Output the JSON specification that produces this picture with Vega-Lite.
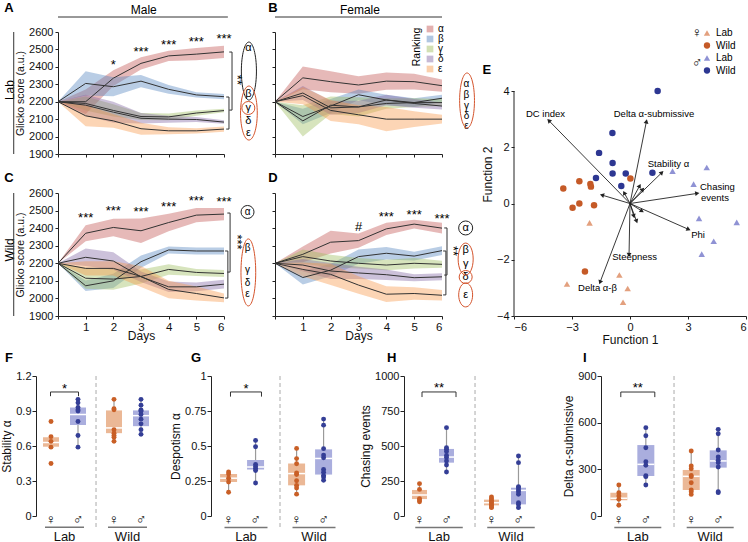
{
"$schema":"https://vega.github.io/schema/vega-lite/v6.json",
"padding":{"left":0,"top":1,"right":0,"bottom":0},
"config":{"font":"Liberation Sans","view":{"stroke":null},
"axis":{"grid":false,"labelColor":"#111","titleColor":"#111","domainColor":"#222","tickColor":"#222","labelFontSize":11,"titleFontSize":12,"titleFontWeight":"normal","tickSize":3,"labelFont":"Liberation Sans","titleFont":"Liberation Sans"},
"legend":{"labelFont":"Liberation Sans"},"title":{"font":"Liberation Sans"},"text":{"font":"Liberation Sans"}},
"datasets":{
"glicko":[
{"p":"A","r":"α","d":0,"s":2200,"lo":2200,"hi":2200},{"p":"A","r":"α","d":1,"s":2200,"lo":2130,"hi":2270},{"p":"A","r":"α","d":2,"s":2335,"lo":2290,"hi":2380},{"p":"A","r":"α","d":3,"s":2420,"lo":2385,"hi":2455},{"p":"A","r":"α","d":4,"s":2463,"lo":2433,"hi":2493},{"p":"A","r":"α","d":5,"s":2473,"lo":2438,"hi":2508},{"p":"A","r":"α","d":6,"s":2486,"lo":2451,"hi":2521},
{"p":"A","r":"β","d":0,"s":2200,"lo":2200,"hi":2200},{"p":"A","r":"β","d":1,"s":2305,"lo":2235,"hi":2375},{"p":"A","r":"β","d":2,"s":2286,"lo":2231,"hi":2341},{"p":"A","r":"β","d":3,"s":2318,"lo":2283,"hi":2353},{"p":"A","r":"β","d":4,"s":2271,"lo":2246,"hi":2296},{"p":"A","r":"β","d":5,"s":2239,"lo":2224,"hi":2254},{"p":"A","r":"β","d":6,"s":2229,"lo":2214,"hi":2244},
{"p":"A","r":"γ","d":0,"s":2200,"lo":2200,"hi":2200},{"p":"A","r":"γ","d":1,"s":2190,"lo":2150,"hi":2230},{"p":"A","r":"γ","d":2,"s":2150,"lo":2115,"hi":2185},{"p":"A","r":"γ","d":3,"s":2115,"lo":2095,"hi":2135},{"p":"A","r":"γ","d":4,"s":2113,"lo":2093,"hi":2133},{"p":"A","r":"γ","d":5,"s":2135,"lo":2120,"hi":2150},{"p":"A","r":"γ","d":6,"s":2149,"lo":2139,"hi":2159},
{"p":"A","r":"δ","d":0,"s":2200,"lo":2200,"hi":2200},{"p":"A","r":"δ","d":1,"s":2180,"lo":2120,"hi":2240},{"p":"A","r":"δ","d":2,"s":2140,"lo":2080,"hi":2200},{"p":"A","r":"δ","d":3,"s":2105,"lo":2075,"hi":2135},{"p":"A","r":"δ","d":4,"s":2100,"lo":2080,"hi":2120},{"p":"A","r":"δ","d":5,"s":2098,"lo":2083,"hi":2113},{"p":"A","r":"δ","d":6,"s":2083,"lo":2073,"hi":2093},
{"p":"A","r":"ε","d":0,"s":2200,"lo":2200,"hi":2200},{"p":"A","r":"ε","d":1,"s":2119,"lo":2059,"hi":2179},{"p":"A","r":"ε","d":2,"s":2090,"lo":2050,"hi":2130},{"p":"A","r":"ε","d":3,"s":2045,"lo":2010,"hi":2080},{"p":"A","r":"ε","d":4,"s":2033,"lo":2013,"hi":2053},{"p":"A","r":"ε","d":5,"s":2033,"lo":2018,"hi":2048},{"p":"A","r":"ε","d":6,"s":2043,"lo":2028,"hi":2058},
{"p":"B","r":"α","d":0,"s":2200,"lo":2200,"hi":2200},{"p":"B","r":"α","d":1,"s":2337,"lo":2272,"hi":2402},{"p":"B","r":"α","d":2,"s":2315,"lo":2255,"hi":2375},{"p":"B","r":"α","d":3,"s":2296,"lo":2246,"hi":2346},{"p":"B","r":"α","d":4,"s":2318,"lo":2268,"hi":2368},{"p":"B","r":"α","d":5,"s":2315,"lo":2270,"hi":2360},{"p":"B","r":"α","d":6,"s":2292,"lo":2257,"hi":2327},
{"p":"B","r":"β","d":0,"s":2200,"lo":2200,"hi":2200},{"p":"B","r":"β","d":1,"s":2115,"lo":2070,"hi":2160},{"p":"B","r":"β","d":2,"s":2175,"lo":2135,"hi":2215},{"p":"B","r":"β","d":3,"s":2240,"lo":2210,"hi":2270},{"p":"B","r":"β","d":4,"s":2210,"lo":2180,"hi":2240},{"p":"B","r":"β","d":5,"s":2195,"lo":2170,"hi":2220},{"p":"B","r":"β","d":6,"s":2220,"lo":2200,"hi":2240},
{"p":"B","r":"γ","d":0,"s":2200,"lo":2200,"hi":2200},{"p":"B","r":"γ","d":1,"s":2090,"lo":2000,"hi":2180},{"p":"B","r":"γ","d":2,"s":2180,"lo":2130,"hi":2230},{"p":"B","r":"γ","d":3,"s":2170,"lo":2115,"hi":2225},{"p":"B","r":"γ","d":4,"s":2190,"lo":2160,"hi":2220},{"p":"B","r":"γ","d":5,"s":2195,"lo":2170,"hi":2220},{"p":"B","r":"γ","d":6,"s":2195,"lo":2175,"hi":2215},
{"p":"B","r":"δ","d":0,"s":2200,"lo":2200,"hi":2200},{"p":"B","r":"δ","d":1,"s":2250,"lo":2210,"hi":2290},{"p":"B","r":"δ","d":2,"s":2165,"lo":2125,"hi":2205},{"p":"B","r":"δ","d":3,"s":2170,"lo":2135,"hi":2205},{"p":"B","r":"δ","d":4,"s":2210,"lo":2180,"hi":2240},{"p":"B","r":"δ","d":5,"s":2190,"lo":2165,"hi":2215},{"p":"B","r":"δ","d":6,"s":2175,"lo":2155,"hi":2195},
{"p":"B","r":"ε","d":0,"s":2200,"lo":2200,"hi":2200},{"p":"B","r":"ε","d":1,"s":2235,"lo":2185,"hi":2285},{"p":"B","r":"ε","d":2,"s":2150,"lo":2090,"hi":2210},{"p":"B","r":"ε","d":3,"s":2125,"lo":2070,"hi":2180},{"p":"B","r":"ε","d":4,"s":2100,"lo":2030,"hi":2170},{"p":"B","r":"ε","d":5,"s":2100,"lo":2055,"hi":2145},{"p":"B","r":"ε","d":6,"s":2100,"lo":2075,"hi":2125},
{"p":"C","r":"α","d":0,"s":2200,"lo":2200,"hi":2200},{"p":"C","r":"α","d":1,"s":2371,"lo":2326,"hi":2416},{"p":"C","r":"α","d":2,"s":2404,"lo":2354,"hi":2454},{"p":"C","r":"α","d":3,"s":2385,"lo":2315,"hi":2455},{"p":"C","r":"α","d":4,"s":2432,"lo":2382,"hi":2482},{"p":"C","r":"α","d":5,"s":2474,"lo":2434,"hi":2514},{"p":"C","r":"α","d":6,"s":2480,"lo":2445,"hi":2515},
{"p":"C","r":"β","d":0,"s":2200,"lo":2200,"hi":2200},{"p":"C","r":"β","d":1,"s":2072,"lo":2042,"hi":2102},{"p":"C","r":"β","d":2,"s":2100,"lo":2060,"hi":2140},{"p":"C","r":"β","d":3,"s":2209,"lo":2174,"hi":2244},{"p":"C","r":"β","d":4,"s":2276,"lo":2256,"hi":2296},{"p":"C","r":"β","d":5,"s":2270,"lo":2250,"hi":2290},{"p":"C","r":"β","d":6,"s":2270,"lo":2250,"hi":2290},
{"p":"C","r":"γ","d":0,"s":2200,"lo":2200,"hi":2200},{"p":"C","r":"γ","d":1,"s":2115,"lo":2055,"hi":2175},{"p":"C","r":"γ","d":2,"s":2110,"lo":2050,"hi":2170},{"p":"C","r":"γ","d":3,"s":2125,"lo":2085,"hi":2165},{"p":"C","r":"γ","d":4,"s":2165,"lo":2135,"hi":2195},{"p":"C","r":"γ","d":5,"s":2148,"lo":2128,"hi":2168},{"p":"C","r":"γ","d":6,"s":2142,"lo":2122,"hi":2162},
{"p":"C","r":"δ","d":0,"s":2200,"lo":2200,"hi":2200},{"p":"C","r":"δ","d":1,"s":2234,"lo":2184,"hi":2284},{"p":"C","r":"δ","d":2,"s":2213,"lo":2163,"hi":2263},{"p":"C","r":"δ","d":3,"s":2123,"lo":2093,"hi":2153},{"p":"C","r":"δ","d":4,"s":2066,"lo":2036,"hi":2096},{"p":"C","r":"δ","d":5,"s":2066,"lo":2041,"hi":2091},{"p":"C","r":"δ","d":6,"s":2081,"lo":2056,"hi":2106},
{"p":"C","r":"ε","d":0,"s":2200,"lo":2200,"hi":2200},{"p":"C","r":"ε","d":1,"s":2171,"lo":2131,"hi":2211},{"p":"C","r":"ε","d":2,"s":2171,"lo":2131,"hi":2211},{"p":"C","r":"ε","d":3,"s":2125,"lo":2065,"hi":2185},{"p":"C","r":"ε","d":4,"s":2051,"lo":2001,"hi":2101},{"p":"C","r":"ε","d":5,"s":2028,"lo":1988,"hi":2068},{"p":"C","r":"ε","d":6,"s":2003,"lo":1978,"hi":2028},
{"p":"D","r":"α","d":0,"s":2200,"lo":2200,"hi":2200},{"p":"D","r":"α","d":1,"s":2251,"lo":2206,"hi":2296},{"p":"D","r":"α","d":2,"s":2320,"lo":2255,"hi":2385},{"p":"D","r":"α","d":3,"s":2329,"lo":2289,"hi":2369},{"p":"D","r":"α","d":4,"s":2396,"lo":2361,"hi":2431},{"p":"D","r":"α","d":5,"s":2423,"lo":2398,"hi":2448},{"p":"D","r":"α","d":6,"s":2400,"lo":2370,"hi":2430},
{"p":"D","r":"β","d":0,"s":2200,"lo":2200,"hi":2200},{"p":"D","r":"β","d":1,"s":2119,"lo":2079,"hi":2159},{"p":"D","r":"β","d":2,"s":2161,"lo":2126,"hi":2196},{"p":"D","r":"β","d":3,"s":2238,"lo":2198,"hi":2278},{"p":"D","r":"β","d":4,"s":2257,"lo":2222,"hi":2292},{"p":"D","r":"β","d":5,"s":2241,"lo":2216,"hi":2266},{"p":"D","r":"β","d":6,"s":2272,"lo":2247,"hi":2297},
{"p":"D","r":"γ","d":0,"s":2200,"lo":2200,"hi":2200},{"p":"D","r":"γ","d":1,"s":2238,"lo":2198,"hi":2278},{"p":"D","r":"γ","d":2,"s":2213,"lo":2178,"hi":2248},{"p":"D","r":"γ","d":3,"s":2200,"lo":2170,"hi":2230},{"p":"D","r":"γ","d":4,"s":2190,"lo":2160,"hi":2220},{"p":"D","r":"γ","d":5,"s":2200,"lo":2170,"hi":2230},{"p":"D","r":"γ","d":6,"s":2194,"lo":2174,"hi":2214},
{"p":"D","r":"δ","d":0,"s":2200,"lo":2200,"hi":2200},{"p":"D","r":"δ","d":1,"s":2190,"lo":2155,"hi":2225},{"p":"D","r":"δ","d":2,"s":2156,"lo":2111,"hi":2201},{"p":"D","r":"δ","d":3,"s":2145,"lo":2110,"hi":2180},{"p":"D","r":"δ","d":4,"s":2135,"lo":2105,"hi":2165},{"p":"D","r":"δ","d":5,"s":2118,"lo":2098,"hi":2138},{"p":"D","r":"δ","d":6,"s":2123,"lo":2103,"hi":2143},
{"p":"D","r":"ε","d":0,"s":2200,"lo":2200,"hi":2200},{"p":"D","r":"ε","d":1,"s":2165,"lo":2125,"hi":2205},{"p":"D","r":"ε","d":2,"s":2137,"lo":2077,"hi":2197},{"p":"D","r":"ε","d":3,"s":2076,"lo":2026,"hi":2126},{"p":"D","r":"ε","d":4,"s":2024,"lo":1979,"hi":2069},{"p":"D","r":"ε","d":5,"s":2028,"lo":1993,"hi":2063},{"p":"D","r":"ε","d":6,"s":2018,"lo":1988,"hi":2048}
],
"seg":[
{"p":"A","x":6.29,"y":2485,"x2":6.29,"y2":2152},{"p":"A","x":6.19,"y":2485,"x2":6.29,"y2":2485},{"p":"A","x":6.19,"y":2152,"x2":6.29,"y2":2152},
{"p":"A","x":6.18,"y":2227,"x2":6.18,"y2":2043},{"p":"A","x":6.08,"y":2227,"x2":6.18,"y2":2227},{"p":"A","x":6.08,"y":2043,"x2":6.18,"y2":2043},
{"p":"C","x":6.22,"y":2486,"x2":6.22,"y2":2150},{"p":"C","x":6.12,"y":2486,"x2":6.22,"y2":2486},{"p":"C","x":6.12,"y":2150,"x2":6.22,"y2":2150},
{"p":"C","x":6.14,"y":2270,"x2":6.14,"y2":2002},{"p":"C","x":6.04,"y":2270,"x2":6.14,"y2":2270},{"p":"C","x":6.04,"y":2002,"x2":6.14,"y2":2002},
{"p":"D","x":6.18,"y":2401,"x2":6.18,"y2":2133},{"p":"D","x":6.08,"y":2401,"x2":6.18,"y2":2401},{"p":"D","x":6.08,"y":2133,"x2":6.18,"y2":2133},
{"p":"D","x":6.14,"y":2270,"x2":6.14,"y2":2020},{"p":"D","x":6.04,"y":2270,"x2":6.14,"y2":2270},{"p":"D","x":6.04,"y":2020,"x2":6.14,"y2":2020}
],
"ann":[
{"p":"A","k":"star","x":2,"y":2411,"t":"*"},{"p":"A","k":"star","x":3,"y":2485,"t":"***"},{"p":"A","k":"star","x":4,"y":2525,"t":"***"},{"p":"A","k":"star","x":5,"y":2543,"t":"***"},{"p":"A","k":"star","x":6,"y":2560,"t":"***"},
{"p":"C","k":"star","x":1,"y":2458,"t":"***"},{"p":"C","k":"star","x":2,"y":2498,"t":"***"},{"p":"C","k":"star","x":3,"y":2492,"t":"***"},{"p":"C","k":"star","x":4,"y":2520,"t":"***"},{"p":"C","k":"star","x":5,"y":2554,"t":"***"},{"p":"C","k":"star","x":6,"y":2549,"t":"***"},
{"p":"D","k":"star","x":3,"y":2405,"t":"#"},{"p":"D","k":"star","x":4,"y":2463,"t":"***"},{"p":"D","k":"star","x":5,"y":2475,"t":"***"},{"p":"D","k":"star","x":6,"y":2452,"t":"***"},
{"p":"A","k":"rot","x":6.47,"y":2325,"t":"**"},{"p":"C","k":"rot","x":6.47,"y":2321,"t":"***"},{"p":"D","k":"rot","x":6.4,"y":2270,"t":"**"},
{"p":"A","k":"greek","x":6.88,"y":2508,"t":"α"},{"p":"A","k":"greek","x":6.88,"y":2244,"t":"β"},{"p":"A","k":"greek","x":6.88,"y":2164,"t":"γ"},{"p":"A","k":"greek","x":6.88,"y":2089,"t":"δ"},{"p":"A","k":"greek","x":6.88,"y":2020,"t":"ε"},
{"p":"B","k":"greek","x":6.88,"y":2302,"t":"α"},{"p":"B","k":"greek","x":6.88,"y":2239,"t":"β"},{"p":"B","k":"greek","x":6.88,"y":2175,"t":"γ"},{"p":"B","k":"greek","x":6.88,"y":2118,"t":"δ"},{"p":"B","k":"greek","x":6.88,"y":2061,"t":"ε"},
{"p":"C","k":"greek","x":6.85,"y":2492,"t":"α"},{"p":"C","k":"greek","x":6.85,"y":2287,"t":"β"},{"p":"C","k":"greek","x":6.85,"y":2162,"t":"γ"},{"p":"C","k":"greek","x":6.85,"y":2090,"t":"δ"},{"p":"C","k":"greek","x":6.85,"y":2028,"t":"ε"},
{"p":"D","k":"greek","x":6.85,"y":2401,"t":"α"},{"p":"D","k":"greek","x":6.85,"y":2276,"t":"β"},{"p":"D","k":"greek","x":6.85,"y":2196,"t":"γ"},{"p":"D","k":"greek","x":6.85,"y":2122,"t":"δ"},{"p":"D","k":"greek","x":6.85,"y":2020,"t":"ε"}
],
"arrows":[
{"x0":0,"y0":0,"x":-4.2,"y":2.95},{"x0":0,"y0":0,"x":0.85,"y":2.92},{"x0":0,"y0":0,"x":1.65,"y":1.1},{"x0":0,"y0":0,"x":3.48,"y":0.36},{"x0":0,"y0":0,"x":3.03,"y":-0.92},{"x0":0,"y0":0,"x":-0.05,"y":-1.83},{"x0":0,"y0":0,"x":-1.55,"y":-2.8},
{"x0":0,"y0":0,"x":-1.45,"y":0.3},{"x0":0,"y0":0,"x":-0.3,"y":0.38},{"x0":0,"y0":0,"x":0.5,"y":0.63},{"x0":0,"y0":0,"x":0.66,"y":0.5},{"x0":0,"y0":0,"x":0.2,"y":-0.45},{"x0":0,"y0":0,"x":0.34,"y":-0.63},{"x0":0,"y0":0,"x":0.62,"y":-0.27}
],
"pcalab":[
{"t":"DC index","x":-4.37,"y":3.18},{"t":"Delta α-submissive","x":1.24,"y":3.18},{"t":"Stability α","x":1.99,"y":1.4},{"t":"Phi","x":3.52,"y":-1.12},{"t":"Steepness","x":0.24,"y":-1.9},{"t":"Delta α-β","x":-1.68,"y":-3.0},{"t":"Chasing","x":3.62,"y":0.57},{"t":"events","x":3.67,"y":0.21}
],
"pca":[
{"g":"M Wild","f1":1.43,"f2":4.0},{"g":"M Wild","f1":-0.91,"f2":2.51},{"g":"M Wild","f1":-1.6,"f2":1.8},{"g":"M Wild","f1":-0.9,"f2":1.44},{"g":"M Wild","f1":-0.9,"f2":1.07},{"g":"M Wild","f1":-0.22,"f2":1.07},{"g":"M Wild","f1":1.16,"f2":1.09},{"g":"M Wild","f1":-1.76,"f2":0.91},{"g":"M Wild","f1":-0.45,"f2":0.62},
{"g":"F Wild","f1":0.02,"f2":0.89},{"g":"F Wild","f1":-3.45,"f2":0.53},{"g":"F Wild","f1":-2.62,"f2":0.79},{"g":"F Wild","f1":-2.05,"f2":0.69},{"g":"F Wild","f1":-2.02,"f2":0.6},{"g":"F Wild","f1":-2.62,"f2":0.0},{"g":"F Wild","f1":-2.97,"f2":-0.15},{"g":"F Wild","f1":-1.86,"f2":-0.06},{"g":"F Wild","f1":-2.33,"f2":-2.42},
{"g":"F Lab","f1":-2.09,"f2":-0.69},{"g":"F Lab","f1":-3.26,"f2":-2.86},{"g":"F Lab","f1":-0.55,"f2":-2.54},{"g":"F Lab","f1":-0.12,"f2":-3.02},{"g":"F Lab","f1":-0.36,"f2":-3.51},
{"g":"M Lab","f1":2.2,"f2":1.15},{"g":"M Lab","f1":3.97,"f2":1.28},{"g":"M Lab","f1":3.29,"f2":0.69},{"g":"M Lab","f1":3.57,"f2":-0.53},{"g":"M Lab","f1":5.52,"f2":-0.67},{"g":"M Lab","f1":4.33,"f2":-1.34},{"g":"M Lab","f1":3.71,"f2":-1.8}
],
"box":[
{"p":"F","g":"Lab","s":"F","q1":0.594,"med":0.63,"q3":0.675,"lo":0.594,"hi":0.675},{"p":"F","g":"Lab","s":"M","q1":0.78,"med":0.87,"q3":0.93,"lo":0.59,"hi":1.0},{"p":"F","g":"Wild","s":"F","q1":0.71,"med":0.755,"q3":0.905,"lo":0.64,"hi":1.0},{"p":"F","g":"Wild","s":"M","q1":0.77,"med":0.86,"q3":0.905,"lo":0.7,"hi":1.0},
{"p":"G","g":"Lab","s":"F","q1":0.243,"med":0.27,"q3":0.3,"lo":0.17,"hi":0.315},{"p":"G","g":"Lab","s":"M","q1":0.332,"med":0.35,"q3":0.4,"lo":0.236,"hi":0.54},{"p":"G","g":"Wild","s":"F","q1":0.219,"med":0.303,"q3":0.375,"lo":0.156,"hi":0.483},{"p":"G","g":"Wild","s":"M","q1":0.296,"med":0.411,"q3":0.476,"lo":0.255,"hi":0.692},
{"p":"H","g":"Lab","s":"F","q1":121,"med":150,"q3":186,"lo":102,"hi":231},{"p":"H","g":"Lab","s":"M","q1":381,"med":421,"q3":479,"lo":314,"hi":631},{"p":"H","g":"Wild","s":"F","q1":76,"med":95,"q3":117,"lo":60,"hi":136},{"p":"H","g":"Wild","s":"M","q1":83,"med":183,"q3":202,"lo":60,"hi":429},
{"p":"I","g":"Lab","s":"F","q1":101,"med":114,"q3":150,"lo":69,"hi":199},{"p":"I","g":"Lab","s":"M","q1":257,"med":332,"q3":456,"lo":199,"hi":568},{"p":"I","g":"Wild","s":"F","q1":167,"med":255,"q3":296,"lo":139,"hi":418},{"p":"I","g":"Wild","s":"M","q1":311,"med":354,"q3":422,"lo":150,"hi":557}
],
"pts":[
{"p":"F","g":"Lab","s":"F","v":0.81},{"p":"F","g":"Lab","s":"F","v":0.68},{"p":"F","g":"Lab","s":"F","v":0.64},{"p":"F","g":"Lab","s":"F","v":0.59},{"p":"F","g":"Lab","s":"F","v":0.45},
{"p":"F","g":"Lab","s":"M","v":1.0},{"p":"F","g":"Lab","s":"M","v":0.97},{"p":"F","g":"Lab","s":"M","v":0.93},{"p":"F","g":"Lab","s":"M","v":0.91},{"p":"F","g":"Lab","s":"M","v":0.9},{"p":"F","g":"Lab","s":"M","v":0.81},{"p":"F","g":"Lab","s":"M","v":0.69},{"p":"F","g":"Lab","s":"M","v":0.59},
{"p":"F","g":"Wild","s":"F","v":1.0},{"p":"F","g":"Wild","s":"F","v":0.92},{"p":"F","g":"Wild","s":"F","v":0.91},{"p":"F","g":"Wild","s":"F","v":0.74},{"p":"F","g":"Wild","s":"F","v":0.71},{"p":"F","g":"Wild","s":"F","v":0.69},{"p":"F","g":"Wild","s":"F","v":0.675},{"p":"F","g":"Wild","s":"F","v":0.64},
{"p":"F","g":"Wild","s":"M","v":1.0},{"p":"F","g":"Wild","s":"M","v":0.95},{"p":"F","g":"Wild","s":"M","v":0.91},{"p":"F","g":"Wild","s":"M","v":0.9},{"p":"F","g":"Wild","s":"M","v":0.9},{"p":"F","g":"Wild","s":"M","v":0.87},{"p":"F","g":"Wild","s":"M","v":0.83},{"p":"F","g":"Wild","s":"M","v":0.79},{"p":"F","g":"Wild","s":"M","v":0.74},{"p":"F","g":"Wild","s":"M","v":0.7},
{"p":"G","g":"Lab","s":"F","v":0.315},{"p":"G","g":"Lab","s":"F","v":0.3},{"p":"G","g":"Lab","s":"F","v":0.27},{"p":"G","g":"Lab","s":"F","v":0.243},{"p":"G","g":"Lab","s":"F","v":0.17},
{"p":"G","g":"Lab","s":"M","v":0.54},{"p":"G","g":"Lab","s":"M","v":0.495},{"p":"G","g":"Lab","s":"M","v":0.368},{"p":"G","g":"Lab","s":"M","v":0.353},{"p":"G","g":"Lab","s":"M","v":0.34},{"p":"G","g":"Lab","s":"M","v":0.325},{"p":"G","g":"Lab","s":"M","v":0.236},
{"p":"G","g":"Wild","s":"F","v":0.483},{"p":"G","g":"Wild","s":"F","v":0.41},{"p":"G","g":"Wild","s":"F","v":0.373},{"p":"G","g":"Wild","s":"F","v":0.308},{"p":"G","g":"Wild","s":"F","v":0.296},{"p":"G","g":"Wild","s":"F","v":0.252},{"p":"G","g":"Wild","s":"F","v":0.219},{"p":"G","g":"Wild","s":"F","v":0.2},{"p":"G","g":"Wild","s":"F","v":0.156},
{"p":"G","g":"Wild","s":"M","v":0.692},{"p":"G","g":"Wild","s":"M","v":0.649},{"p":"G","g":"Wild","s":"M","v":0.481},{"p":"G","g":"Wild","s":"M","v":0.435},{"p":"G","g":"Wild","s":"M","v":0.416},{"p":"G","g":"Wild","s":"M","v":0.332},{"p":"G","g":"Wild","s":"M","v":0.313},{"p":"G","g":"Wild","s":"M","v":0.29},{"p":"G","g":"Wild","s":"M","v":0.279},{"p":"G","g":"Wild","s":"M","v":0.255},
{"p":"H","g":"Lab","s":"F","v":231},{"p":"H","g":"Lab","s":"F","v":190},{"p":"H","g":"Lab","s":"F","v":124},{"p":"H","g":"Lab","s":"F","v":114},{"p":"H","g":"Lab","s":"F","v":102},
{"p":"H","g":"Lab","s":"M","v":631},{"p":"H","g":"Lab","s":"M","v":488},{"p":"H","g":"Lab","s":"M","v":476},{"p":"H","g":"Lab","s":"M","v":460},{"p":"H","g":"Lab","s":"M","v":433},{"p":"H","g":"Lab","s":"M","v":417},{"p":"H","g":"Lab","s":"M","v":393},{"p":"H","g":"Lab","s":"M","v":364},{"p":"H","g":"Lab","s":"M","v":314},
{"p":"H","g":"Wild","s":"F","v":136},{"p":"H","g":"Wild","s":"F","v":124},{"p":"H","g":"Wild","s":"F","v":112},{"p":"H","g":"Wild","s":"F","v":100},{"p":"H","g":"Wild","s":"F","v":95},{"p":"H","g":"Wild","s":"F","v":83},{"p":"H","g":"Wild","s":"F","v":76},{"p":"H","g":"Wild","s":"F","v":64},{"p":"H","g":"Wild","s":"F","v":60},
{"p":"H","g":"Wild","s":"M","v":429},{"p":"H","g":"Wild","s":"M","v":381},{"p":"H","g":"Wild","s":"M","v":210},{"p":"H","g":"Wild","s":"M","v":202},{"p":"H","g":"Wild","s":"M","v":186},{"p":"H","g":"Wild","s":"M","v":174},{"p":"H","g":"Wild","s":"M","v":155},{"p":"H","g":"Wild","s":"M","v":95},{"p":"H","g":"Wild","s":"M","v":83},{"p":"H","g":"Wild","s":"M","v":60},
{"p":"I","g":"Lab","s":"F","v":199},{"p":"I","g":"Lab","s":"F","v":150},{"p":"I","g":"Lab","s":"F","v":129},{"p":"I","g":"Lab","s":"F","v":107},{"p":"I","g":"Lab","s":"F","v":69},
{"p":"I","g":"Lab","s":"M","v":568},{"p":"I","g":"Lab","s":"M","v":516},{"p":"I","g":"Lab","s":"M","v":439},{"p":"I","g":"Lab","s":"M","v":349},{"p":"I","g":"Lab","s":"M","v":326},{"p":"I","g":"Lab","s":"M","v":259},{"p":"I","g":"Lab","s":"M","v":253},{"p":"I","g":"Lab","s":"M","v":199},
{"p":"I","g":"Wild","s":"F","v":418},{"p":"I","g":"Wild","s":"F","v":321},{"p":"I","g":"Wild","s":"F","v":304},{"p":"I","g":"Wild","s":"F","v":261},{"p":"I","g":"Wild","s":"F","v":253},{"p":"I","g":"Wild","s":"F","v":214},{"p":"I","g":"Wild","s":"F","v":167},{"p":"I","g":"Wild","s":"F","v":156},{"p":"I","g":"Wild","s":"F","v":139},
{"p":"I","g":"Wild","s":"M","v":557},{"p":"I","g":"Wild","s":"M","v":529},{"p":"I","g":"Wild","s":"M","v":424},{"p":"I","g":"Wild","s":"M","v":379},{"p":"I","g":"Wild","s":"M","v":358},{"p":"I","g":"Wild","s":"M","v":343},{"p":"I","g":"Wild","s":"M","v":315},{"p":"I","g":"Wild","s":"M","v":156},{"p":"I","g":"Wild","s":"M","v":150}
],
"sexlab":[{"g":"Lab","s":"F","sym":"♀"},{"g":"Lab","s":"M","sym":"♂"},{"g":"Wild","s":"F","sym":"♀"},{"g":"Wild","s":"M","sym":"♂"}],
"grps":[{"g":"Lab"},{"g":"Wild"}]
},
"spacing":7,
"resolve":{"scale":{"color":"independent","shape":"independent"},"legend":{"color":"independent","shape":"independent"}},
"vconcat":[
{"bounds":"flush","spacing":21,"resolve":{"scale":{"color":"independent","shape":"independent"},"legend":{"color":"independent","shape":"independent"}},
 "hconcat":[
 {"width":1,"height":1,"data":{"values":[{}]},"mark":{"type":"point","opacity":0},"encoding":{}},
 {"spacing":4,"resolve":{"scale":{"color":"independent","shape":"independent"},"legend":{"color":"independent","shape":"independent"}},
 "hconcat":[
  {"columns":2,"bounds":"flush","spacing":{"row":39,"column":51},"resolve":{"scale":{"color":"independent","shape":"independent"},"legend":{"color":"independent","shape":"independent"}},
   "concat":[
    {"width":166,"height":122,"layer":[
     {"data":{"name":"glicko"},"transform":[{"filter":"datum.p==='A'"}],"mark":{"type":"area","opacity":0.4},
      "encoding":{"x":{"field":"d","type":"quantitative","scale":{"domain":[0,6],"nice":false},"axis":{"values":[0,1,2,3,4,5,6],"tickCount":20,"labels":false,"title":null}},
       "y":{"field":"lo","type":"quantitative","scale":{"domain":[1900,2600],"nice":false},"axis":{"values":[1900,2000,2100,2200,2300,2400,2500,2600],"tickCount":20,"labelOverlap":false,"format":"d","title":"Glicko score (a.u.)","titleFontSize":10.5,"titlePadding":3,"labelPadding":2}},
       "y2":{"field":"hi"},
       "color":{"field":"r","type":"nominal","scale":{"domain":["α","β","γ","δ","ε"],"range":["#c0504d","#4f81bd","#9bbb59","#8064a2","#f79646"]},"legend":null}}},
     {"data":{"name":"glicko"},"transform":[{"filter":"datum.p==='A'"}],"mark":{"type":"line","color":"#333","strokeWidth":1},"encoding":{"x":{"field":"d","type":"quantitative"},"y":{"field":"s","type":"quantitative"},"detail":{"field":"r","type":"nominal"}}},
     {"data":{"name":"seg"},"transform":[{"filter":"datum.p==='A'"}],"mark":{"type":"rule","color":"#333","strokeWidth":1},"encoding":{"x":{"field":"x","type":"quantitative"},"y":{"field":"y","type":"quantitative"},"x2":{"field":"x2"},"y2":{"field":"y2"}}},
     {"data":{"name":"ann"},"transform":[{"filter":"datum.p==='A' && datum.k==='star'"}],"mark":{"type":"text","fontSize":13},"encoding":{"x":{"field":"x","type":"quantitative"},"y":{"field":"y","type":"quantitative"},"text":{"field":"t","type":"nominal"}}},
     {"data":{"name":"ann"},"transform":[{"filter":"datum.p==='A' && datum.k==='rot'"}],"mark":{"type":"text","fontSize":13,"angle":90},"encoding":{"x":{"field":"x","type":"quantitative"},"y":{"field":"y","type":"quantitative"},"text":{"field":"t","type":"nominal"}}},
     {"data":{"name":"ann"},"transform":[{"filter":"datum.p==='A' && datum.k==='greek'"}],"mark":{"type":"text","fontSize":11},"encoding":{"x":{"field":"x","type":"quantitative"},"y":{"field":"y","type":"quantitative"},"text":{"field":"t","type":"nominal"}}},
     {"data":{"values":[{}]},"mark":{"type":"point","shape":"M0,-1A0.26,1,0,1,1,0,1A0.26,1,0,1,1,0,-1Z","size":3364,"filled":false,"color":"#222","strokeWidth":1,"opacity":1},"encoding":{"x":{"datum":6.9,"type":"quantitative"},"y":{"datum":2376,"type":"quantitative"}}},
     {"data":{"values":[{}]},"mark":{"type":"point","shape":"M0,-1A0.31,1,0,1,1,0,1A0.31,1,0,1,1,0,-1Z","size":2916,"filled":false,"color":"#d4532b","strokeWidth":1,"opacity":1},"encoding":{"x":{"datum":6.9,"type":"quantitative"},"y":{"datum":2135,"type":"quantitative"}}},
     {"data":{"values":[{}]},"mark":{"type":"point","shape":"circle","size":169,"filled":false,"color":"#d4532b","strokeWidth":1,"opacity":1},"encoding":{"x":{"datum":6.88,"type":"quantitative"},"y":{"datum":2164,"type":"quantitative"}}},
     {"data":{"values":[{}]},"mark":{"type":"text","fontSize":12},"encoding":{"x":{"datum":3.1,"type":"quantitative"},"y":{"datum":2726,"type":"quantitative"},"text":{"value":"Male"}}},
     {"data":{"values":[{}]},"mark":{"type":"rule","color":"#333","strokeWidth":1},"encoding":{"x":{"datum":0,"type":"quantitative"},"x2":{"datum":6.14},"y":{"datum":2686,"type":"quantitative"}}},
     {"data":{"values":[{}]},"mark":{"type":"text","fontSize":12,"angle":270},"encoding":{"x":{"datum":-1.74,"type":"quantitative"},"y":{"datum":2267,"type":"quantitative"},"text":{"value":"Lab"}}},
     {"data":{"values":[{}]},"mark":{"type":"rule","color":"#333","strokeWidth":1},"encoding":{"x":{"datum":-1.6,"type":"quantitative"},"y":{"datum":1900,"type":"quantitative"},"y2":{"datum":2600}}},
     {"data":{"values":[{}]},"mark":{"type":"text","fontSize":13,"fontWeight":"bold"},"encoding":{"x":{"datum":-1.77,"type":"quantitative"},"y":{"datum":2738,"type":"quantitative"},"text":{"value":"A"}}}
    ]},
    {"width":167,"height":122,"layer":[
     {"data":{"name":"glicko"},"transform":[{"filter":"datum.p==='B'"}],"mark":{"type":"area","opacity":0.4},
      "encoding":{"x":{"field":"d","type":"quantitative","scale":{"domain":[0,6],"nice":false},"axis":{"values":[0,1,2,3,4,5,6],"tickCount":20,"labels":false,"title":null}},
       "y":{"field":"lo","type":"quantitative","scale":{"domain":[1900,2600],"nice":false},"axis":{"values":[1900,2000,2100,2200,2300,2400,2500,2600],"tickCount":20,"labels":false,"title":null}},
       "y2":{"field":"hi"},
       "color":{"field":"r","type":"nominal","scale":{"domain":["α","β","γ","δ","ε"],"range":["#c0504d","#4f81bd","#9bbb59","#8064a2","#f79646"]},
        "legend":{"title":null,"orient":"none","legendX":150,"legendY":-8,"symbolType":"square","symbolSize":45,"symbolOpacity":0.45,"symbolStrokeWidth":0,"labelFontSize":10,"rowPadding":0,"labelOffset":3}}}},
     {"data":{"name":"glicko"},"transform":[{"filter":"datum.p==='B'"}],"mark":{"type":"line","color":"#333","strokeWidth":1},"encoding":{"x":{"field":"d","type":"quantitative"},"y":{"field":"s","type":"quantitative"},"detail":{"field":"r","type":"nominal"}}},
     {"data":{"name":"ann"},"transform":[{"filter":"datum.p==='B' && datum.k==='greek'"}],"mark":{"type":"text","fontSize":10},"encoding":{"x":{"field":"x","type":"quantitative"},"y":{"field":"y","type":"quantitative"},"text":{"field":"t","type":"nominal"}}},
     {"data":{"values":[{}]},"mark":{"type":"point","shape":"M0,-1A0.27,1,0,1,1,0,1A0.27,1,0,1,1,0,-1Z","size":3025,"filled":false,"color":"#d4532b","strokeWidth":1,"opacity":1},"encoding":{"x":{"datum":6.9,"type":"quantitative"},"y":{"datum":2207,"type":"quantitative"}}},
     {"data":{"values":[{}]},"mark":{"type":"text","fontSize":12},"encoding":{"x":{"datum":3.05,"type":"quantitative"},"y":{"datum":2726,"type":"quantitative"},"text":{"value":"Female"}}},
     {"data":{"values":[{}]},"mark":{"type":"rule","color":"#333","strokeWidth":1},"encoding":{"x":{"datum":0,"type":"quantitative"},"x2":{"datum":6},"y":{"datum":2686,"type":"quantitative"}}},
     {"data":{"values":[{}]},"mark":{"type":"text","fontSize":10.5,"angle":270},"encoding":{"x":{"datum":5.1,"type":"quantitative"},"y":{"datum":2514,"type":"quantitative"},"text":{"value":"Ranking"}}},
     {"data":{"values":[{}]},"mark":{"type":"text","fontSize":13,"fontWeight":"bold"},"encoding":{"x":{"datum":-0.07,"type":"quantitative"},"y":{"datum":2738,"type":"quantitative"},"text":{"value":"B"}}}
    ]},
    {"width":166,"height":123,"layer":[
     {"data":{"name":"glicko"},"transform":[{"filter":"datum.p==='C'"}],"mark":{"type":"area","opacity":0.4},
      "encoding":{"x":{"field":"d","type":"quantitative","scale":{"domain":[0,6],"nice":false},"axis":{"values":[0,1,2,3,4,5,6],"tickCount":20,"format":"d","labelExpr":"datum.value==0?'':datum.label","labelOverlap":false,"title":"Days","labelFontSize":11.5,"titleFontSize":12,"titlePadding":-2,"labelPadding":2}},
       "y":{"field":"lo","type":"quantitative","scale":{"domain":[1900,2600],"nice":false},"axis":{"values":[1900,2000,2100,2200,2300,2400,2500,2600],"tickCount":20,"labelOverlap":false,"format":"d","title":"Glicko score (a.u.)","titleFontSize":10.5,"titlePadding":3,"labelPadding":2}},
       "y2":{"field":"hi"},
       "color":{"field":"r","type":"nominal","scale":{"domain":["α","β","γ","δ","ε"],"range":["#c0504d","#4f81bd","#9bbb59","#8064a2","#f79646"]},"legend":null}}},
     {"data":{"name":"glicko"},"transform":[{"filter":"datum.p==='C'"}],"mark":{"type":"line","color":"#333","strokeWidth":1},"encoding":{"x":{"field":"d","type":"quantitative"},"y":{"field":"s","type":"quantitative"},"detail":{"field":"r","type":"nominal"}}},
     {"data":{"name":"seg"},"transform":[{"filter":"datum.p==='C'"}],"mark":{"type":"rule","color":"#333","strokeWidth":1},"encoding":{"x":{"field":"x","type":"quantitative"},"y":{"field":"y","type":"quantitative"},"x2":{"field":"x2"},"y2":{"field":"y2"}}},
     {"data":{"name":"ann"},"transform":[{"filter":"datum.p==='C' && datum.k==='star'"}],"mark":{"type":"text","fontSize":13},"encoding":{"x":{"field":"x","type":"quantitative"},"y":{"field":"y","type":"quantitative"},"text":{"field":"t","type":"nominal"}}},
     {"data":{"name":"ann"},"transform":[{"filter":"datum.p==='C' && datum.k==='rot'"}],"mark":{"type":"text","fontSize":13,"angle":90},"encoding":{"x":{"field":"x","type":"quantitative"},"y":{"field":"y","type":"quantitative"},"text":{"field":"t","type":"nominal"}}},
     {"data":{"name":"ann"},"transform":[{"filter":"datum.p==='C' && datum.k==='greek'"}],"mark":{"type":"text","fontSize":10},"encoding":{"x":{"field":"x","type":"quantitative"},"y":{"field":"y","type":"quantitative"},"text":{"field":"t","type":"nominal"}}},
     {"data":{"values":[{}]},"mark":{"type":"point","shape":"circle","size":169,"filled":false,"color":"#222","strokeWidth":1,"opacity":1},"encoding":{"x":{"datum":6.85,"type":"quantitative"},"y":{"datum":2492,"type":"quantitative"}}},
     {"data":{"values":[{}]},"mark":{"type":"point","shape":"M0,-1A0.22,1,0,1,1,0,1A0.22,1,0,1,1,0,-1Z","size":4489,"filled":false,"color":"#d4532b","strokeWidth":1,"opacity":1},"encoding":{"x":{"datum":6.88,"type":"quantitative"},"y":{"datum":2148,"type":"quantitative"}}},
     {"data":{"values":[{}]},"mark":{"type":"text","fontSize":12,"angle":270},"encoding":{"x":{"datum":-1.74,"type":"quantitative"},"y":{"datum":2276,"type":"quantitative"},"text":{"value":"Wild"}}},
     {"data":{"values":[{}]},"mark":{"type":"rule","color":"#333","strokeWidth":1},"encoding":{"x":{"datum":-1.6,"type":"quantitative"},"y":{"datum":1900,"type":"quantitative"},"y2":{"datum":2600}}},
     {"data":{"values":[{}]},"mark":{"type":"text","fontSize":13,"fontWeight":"bold"},"encoding":{"x":{"datum":-1.77,"type":"quantitative"},"y":{"datum":2685,"type":"quantitative"},"text":{"value":"C"}}}
    ]},
    {"width":167,"height":123,"layer":[
     {"data":{"name":"glicko"},"transform":[{"filter":"datum.p==='D'"}],"mark":{"type":"area","opacity":0.4},
      "encoding":{"x":{"field":"d","type":"quantitative","scale":{"domain":[0,6],"nice":false},"axis":{"values":[0,1,2,3,4,5,6],"tickCount":20,"format":"d","labelExpr":"datum.value==0?'':datum.label","labelOverlap":false,"title":"Days","labelFontSize":11.5,"titleFontSize":12,"titlePadding":-2,"labelPadding":2}},
       "y":{"field":"lo","type":"quantitative","scale":{"domain":[1900,2600],"nice":false},"axis":{"values":[1900,2000,2100,2200,2300,2400,2500,2600],"tickCount":20,"labels":false,"title":null}},
       "y2":{"field":"hi"},
       "color":{"field":"r","type":"nominal","scale":{"domain":["α","β","γ","δ","ε"],"range":["#c0504d","#4f81bd","#9bbb59","#8064a2","#f79646"]},"legend":null}}},
     {"data":{"name":"glicko"},"transform":[{"filter":"datum.p==='D'"}],"mark":{"type":"line","color":"#333","strokeWidth":1},"encoding":{"x":{"field":"d","type":"quantitative"},"y":{"field":"s","type":"quantitative"},"detail":{"field":"r","type":"nominal"}}},
     {"data":{"name":"seg"},"transform":[{"filter":"datum.p==='D'"}],"mark":{"type":"rule","color":"#333","strokeWidth":1},"encoding":{"x":{"field":"x","type":"quantitative"},"y":{"field":"y","type":"quantitative"},"x2":{"field":"x2"},"y2":{"field":"y2"}}},
     {"data":{"name":"ann"},"transform":[{"filter":"datum.p==='D' && datum.k==='star'"}],"mark":{"type":"text","fontSize":13},"encoding":{"x":{"field":"x","type":"quantitative"},"y":{"field":"y","type":"quantitative"},"text":{"field":"t","type":"nominal"}}},
     {"data":{"name":"ann"},"transform":[{"filter":"datum.p==='D' && datum.k==='rot'"}],"mark":{"type":"text","fontSize":13,"angle":90},"encoding":{"x":{"field":"x","type":"quantitative"},"y":{"field":"y","type":"quantitative"},"text":{"field":"t","type":"nominal"}}},
     {"data":{"name":"ann"},"transform":[{"filter":"datum.p==='D' && datum.k==='greek'"}],"mark":{"type":"text","fontSize":11},"encoding":{"x":{"field":"x","type":"quantitative"},"y":{"field":"y","type":"quantitative"},"text":{"field":"t","type":"nominal"}}},
     {"data":{"values":[{}]},"mark":{"type":"point","shape":"circle","size":196,"filled":false,"color":"#222","strokeWidth":1,"opacity":1},"encoding":{"x":{"datum":6.85,"type":"quantitative"},"y":{"datum":2401,"type":"quantitative"}}},
     {"data":{"values":[{}]},"mark":{"type":"point","shape":"M0,-1A0.47,1,0,1,1,0,1A0.47,1,0,1,1,0,-1Z","size":1024,"filled":false,"color":"#d4532b","strokeWidth":1,"opacity":1},"encoding":{"x":{"datum":6.85,"type":"quantitative"},"y":{"datum":2224,"type":"quantitative"}}},
     {"data":{"values":[{}]},"mark":{"type":"point","shape":"circle","size":169,"filled":false,"color":"#d4532b","strokeWidth":1,"opacity":1},"encoding":{"x":{"datum":6.85,"type":"quantitative"},"y":{"datum":2122,"type":"quantitative"}}},
     {"data":{"values":[{}]},"mark":{"type":"point","shape":"M0,-1A0.58,1,0,1,1,0,1A0.58,1,0,1,1,0,-1Z","size":576,"filled":false,"color":"#d4532b","strokeWidth":1,"opacity":1},"encoding":{"x":{"datum":6.85,"type":"quantitative"},"y":{"datum":2020,"type":"quantitative"}}},
     {"data":{"values":[{}]},"mark":{"type":"text","fontSize":13,"fontWeight":"bold"},"encoding":{"x":{"datum":-0.07,"type":"quantitative"},"y":{"datum":2685,"type":"quantitative"},"text":{"value":"D"}}}
    ]}
  ]},
  {"width":232,"height":284,"layer":[
    {"data":{"name":"arrows"},"mark":{"type":"rule","color":"#222","strokeWidth":0.9},
     "encoding":{"x":{"field":"x0","type":"quantitative","scale":{"domain":[-6,6],"nice":false},"axis":{"values":[-6,-3,0,3,6],"tickCount":20,"format":"d","title":"Function 1","labelFontSize":11,"titleFontSize":12,"titlePadding":2}},
      "y":{"field":"y0","type":"quantitative","scale":{"domain":[-4,6.098],"nice":false},"axis":{"values":[-4,-2,0,2,4],"tickCount":20,"format":"d","domain":false,"title":"Function 2","labelFontSize":11,"titleFontSize":12,"titlePadding":2}},
      "x2":{"field":"x"},"y2":{"field":"y"}}},
    {"data":{"values":[{}]},"mark":{"type":"rule","color":"#222","strokeWidth":1},"encoding":{"x":{"datum":-6,"type":"quantitative"},"y":{"datum":-4,"type":"quantitative"},"y2":{"datum":4}}},
    {"data":{"name":"arrows"},"transform":[{"calculate":"atan2(datum.x*19.33, datum.y*28.125)*180/PI","as":"ang"}],"mark":{"type":"point","shape":"triangle-up","filled":true,"color":"#222","size":24,"opacity":1},
     "encoding":{"x":{"field":"x","type":"quantitative"},"y":{"field":"y","type":"quantitative"},"angle":{"field":"ang","type":"quantitative","scale":null}}},
    {"data":{"name":"pca"},"mark":{"type":"point","filled":true,"opacity":1,"size":42},
     "encoding":{"x":{"field":"f1","type":"quantitative"},"y":{"field":"f2","type":"quantitative"},
      "color":{"field":"g","type":"nominal","scale":{"domain":["F Lab","F Wild","M Lab","M Wild"],"range":["#e3a07e","#c55a27","#8f92d4","#2d3792"]},"legend":{"title":null,"orient":"none","legendX":188,"legendY":-4,"labelExpr":"slice(datum.label,2)","labelFontSize":10,"symbolSize":40,"rowPadding":2.5,"labelOffset":4}},
      "shape":{"field":"g","type":"nominal","scale":{"domain":["F Lab","F Wild","M Lab","M Wild"],"range":["triangle-up","circle","triangle-up","circle"]},"legend":{"title":null,"orient":"none","legendX":188,"legendY":-4,"labelExpr":"slice(datum.label,2)","labelFontSize":10,"symbolSize":40,"rowPadding":2.5,"labelOffset":4}}}},
    {"data":{"name":"pcalab"},"transform":[{"filter":"datum.t!=='Chasing' && datum.t!=='events'"}],"mark":{"type":"text","fontSize":9.5},"encoding":{"x":{"field":"x","type":"quantitative"},"y":{"field":"y","type":"quantitative"},"text":{"field":"t","type":"nominal"}}},
    {"data":{"name":"pcalab"},"transform":[{"filter":"datum.t==='Chasing' || datum.t==='events'"}],"mark":{"type":"text","fontSize":9.5,"align":"left"},"encoding":{"x":{"field":"x","type":"quantitative"},"y":{"field":"y","type":"quantitative"},"text":{"field":"t","type":"nominal"}}},
    {"data":{"values":[{}]},"mark":{"type":"text","fontSize":13,"fontWeight":"bold"},"encoding":{"x":{"datum":-7.4,"type":"quantitative"},"y":{"datum":4.75,"type":"quantitative"},"text":{"value":"E"}}},
    {"data":{"values":[{}]},"mark":{"type":"text","fontSize":14},"encoding":{"x":{"datum":3.47,"type":"quantitative"},"y":{"datum":6.06,"type":"quantitative"},"text":{"value":"♀"}}},
    {"data":{"values":[{}]},"mark":{"type":"text","fontSize":14},"encoding":{"x":{"datum":3.47,"type":"quantitative"},"y":{"datum":5.0,"type":"quantitative"},"text":{"value":"♂"}}}
  ]}
 ]}
 ]},
{"bounds":"flush","spacing":55,"resolve":{"scale":{"color":"independent","shape":"independent"},"legend":{"color":"independent","shape":"independent"}},
 "hconcat":[
 {"width":120,"height":140,"title":{"text":"F","anchor":"start","frame":"group","dx":-31,"offset":5,"fontSize":13,"fontWeight":"bold"},"resolve":{"scale":{"color":"independent"}},
  "layer":[
  {"data":{"values":[{}]},"mark":{"type":"rule","color":"#aaa","strokeDash":[4,3],"strokeWidth":1},
   "encoding":{"x":{"datum":"Wild","type":"nominal","bandPosition":-0.083,"scale":{"domain":["Lab","Wild"],"paddingInner":0.143,"paddingOuter":0.024},"axis":{"title":null,"labelAngle":0,"domain":false,"ticks":false,"tickSize":0,"labelPadding":14,"labelFontSize":13}},
    "y":{"datum":1.2,"type":"quantitative","scale":{"domain":[0,1.2],"nice":false},"axis":{"values":[0,0.3,0.6,0.9,1.2],"tickCount":20,"labelOverlap":false,"format":"~r","title":"Stability α","tickSize":4,"labelPadding":1,"titlePadding":2,"labelFontSize":11,"titleFontSize":12}},
    "y2":{"datum":-0.103}}},
  {"data":{"name":"box"},"transform":[{"filter":"datum.p==='F'"}],"mark":{"type":"rule","color":"#9a9a9a","strokeWidth":1.2},"encoding":{"x":{"field":"g","type":"nominal"},"xOffset":{"field":"s","type":"nominal","scale":{"domain":["F","M"],"paddingInner":0,"paddingOuter":0}},"y":{"field":"lo","type":"quantitative"},"y2":{"field":"hi"}}},
  {"data":{"name":"box"},"transform":[{"filter":"datum.p==='F'"}],"mark":{"type":"bar","width":16},"encoding":{"x":{"field":"g","type":"nominal"},"xOffset":{"field":"s","type":"nominal"},"y":{"field":"q1","type":"quantitative"},"y2":{"field":"q3"},"color":{"field":"s","type":"nominal","scale":{"domain":["F","M"],"range":["#ebb896","#aaaede"]},"legend":null}}},
  {"data":{"name":"box"},"transform":[{"filter":"datum.p==='F'"}],"mark":{"type":"tick","color":"white","size":16,"thickness":1.5,"opacity":1},"encoding":{"x":{"field":"g","type":"nominal"},"xOffset":{"field":"s","type":"nominal"},"y":{"field":"med","type":"quantitative"}}},
  {"data":{"name":"pts"},"transform":[{"filter":"datum.p==='F'"}],"mark":{"type":"circle","size":24,"opacity":1},"encoding":{"x":{"field":"g","type":"nominal"},"xOffset":{"field":"s","type":"nominal"},"y":{"field":"v","type":"quantitative"},"color":{"field":"s","type":"nominal","scale":{"domain":["F","M"],"range":["#c95f26","#343e96"]},"legend":null}}},
  {"data":{"name":"sexlab"},"mark":{"type":"text","fontSize":14},"encoding":{"x":{"field":"g","type":"nominal"},"xOffset":{"field":"s","type":"nominal"},"y":{"datum":-0.034,"type":"quantitative"},"text":{"field":"sym","type":"nominal"}}},
  {"data":{"name":"grps"},"mark":{"type":"point","shape":"M-1,0L1,0","filled":false,"color":"#777","strokeWidth":1.5,"size":1521,"opacity":1},"encoding":{"x":{"field":"g","type":"nominal"},"y":{"datum":-0.096,"type":"quantitative"}}},
  {"data":{"values":[{}]},"mark":{"type":"point","shape":"M-1,0.3L-1,0L1,0L1,0.3","filled":false,"color":"#333","strokeWidth":1,"size":784,"opacity":1},"encoding":{"x":{"datum":"Lab","type":"nominal"},"y":{"datum":1.063,"type":"quantitative"}}},
  {"data":{"values":[{}]},"mark":{"type":"text","fontSize":13},"encoding":{"x":{"datum":"Lab","type":"nominal"},"y":{"datum":1.088,"type":"quantitative"},"text":{"value":"*"}}}
 ]},
 {"width":138,"height":140,"title":{"text":"G","anchor":"start","frame":"group","dx":-20,"offset":5,"fontSize":13,"fontWeight":"bold"},"resolve":{"scale":{"color":"independent"}},
  "layer":[
  {"data":{"values":[{}]},"mark":{"type":"rule","color":"#aaa","strokeDash":[4,3],"strokeWidth":1},
   "encoding":{"x":{"datum":"Wild","type":"nominal","bandPosition":-0.05,"scale":{"domain":["Lab","Wild"],"paddingInner":0.091,"paddingOuter":0.06},"axis":{"title":null,"labelAngle":0,"domain":false,"ticks":false,"tickSize":0,"labelPadding":14,"labelFontSize":13}},
    "y":{"datum":1,"type":"quantitative","scale":{"domain":[0,1],"nice":false},"axis":{"values":[0,0.25,0.5,0.75,1],"tickCount":20,"labelOverlap":false,"format":"~r","title":"Despotism α","tickSize":4,"labelPadding":1,"titlePadding":2,"labelFontSize":11,"titleFontSize":12}},
    "y2":{"datum":-0.086}}},
  {"data":{"name":"box"},"transform":[{"filter":"datum.p==='G'"}],"mark":{"type":"rule","color":"#9a9a9a","strokeWidth":1.2},"encoding":{"x":{"field":"g","type":"nominal"},"xOffset":{"field":"s","type":"nominal","scale":{"domain":["F","M"],"paddingInner":0,"paddingOuter":0}},"y":{"field":"lo","type":"quantitative"},"y2":{"field":"hi"}}},
  {"data":{"name":"box"},"transform":[{"filter":"datum.p==='G'"}],"mark":{"type":"bar","width":17},"encoding":{"x":{"field":"g","type":"nominal"},"xOffset":{"field":"s","type":"nominal"},"y":{"field":"q1","type":"quantitative"},"y2":{"field":"q3"},"color":{"field":"s","type":"nominal","scale":{"domain":["F","M"],"range":["#ebb896","#aaaede"]},"legend":null}}},
  {"data":{"name":"box"},"transform":[{"filter":"datum.p==='G'"}],"mark":{"type":"tick","color":"white","size":17,"thickness":1.5,"opacity":1},"encoding":{"x":{"field":"g","type":"nominal"},"xOffset":{"field":"s","type":"nominal"},"y":{"field":"med","type":"quantitative"}}},
  {"data":{"name":"pts"},"transform":[{"filter":"datum.p==='G'"}],"mark":{"type":"circle","size":24,"opacity":1},"encoding":{"x":{"field":"g","type":"nominal"},"xOffset":{"field":"s","type":"nominal"},"y":{"field":"v","type":"quantitative"},"color":{"field":"s","type":"nominal","scale":{"domain":["F","M"],"range":["#c95f26","#343e96"]},"legend":null}}},
  {"data":{"name":"sexlab"},"mark":{"type":"text","fontSize":14},"encoding":{"x":{"field":"g","type":"nominal"},"xOffset":{"field":"s","type":"nominal"},"y":{"datum":-0.029,"type":"quantitative"},"text":{"field":"sym","type":"nominal"}}},
  {"data":{"name":"grps"},"mark":{"type":"point","shape":"M-1,0L1,0","filled":false,"color":"#777","strokeWidth":1.5,"size":1849,"opacity":1},"encoding":{"x":{"field":"g","type":"nominal"},"y":{"datum":-0.082,"type":"quantitative"}}},
  {"data":{"values":[{}]},"mark":{"type":"point","shape":"M-1,0.3L-1,0L1,0L1,0.3","filled":false,"color":"#333","strokeWidth":1,"size":961,"opacity":1},"encoding":{"x":{"datum":"Lab","type":"nominal"},"y":{"datum":0.886,"type":"quantitative"}}},
  {"data":{"values":[{}]},"mark":{"type":"text","fontSize":13},"encoding":{"x":{"datum":"Lab","type":"nominal"},"y":{"datum":0.907,"type":"quantitative"},"text":{"value":"*"}}}
 ]},
 {"width":142,"height":140,"title":{"text":"H","anchor":"start","frame":"group","dx":-17,"offset":5,"fontSize":13,"fontWeight":"bold"},"resolve":{"scale":{"color":"independent"}},
  "layer":[
  {"data":{"values":[{}]},"mark":{"type":"rule","color":"#aaa","strokeDash":[4,3],"strokeWidth":1},
   "encoding":{"x":{"datum":"Wild","type":"nominal","bandPosition":-0.045,"scale":{"domain":["Lab","Wild"],"paddingInner":0.083,"paddingOuter":0.028},"axis":{"title":null,"labelAngle":0,"domain":false,"ticks":false,"tickSize":0,"labelPadding":14,"labelFontSize":13}},
    "y":{"datum":1000,"type":"quantitative","scale":{"domain":[0,1000],"nice":false},"axis":{"values":[0,250,500,750,1000],"tickCount":20,"labelOverlap":false,"format":"~r","title":"Chasing events","tickSize":4,"labelPadding":1,"titlePadding":2,"labelFontSize":11,"titleFontSize":12}},
    "y2":{"datum":-86}}},
  {"data":{"name":"box"},"transform":[{"filter":"datum.p==='H'"}],"mark":{"type":"rule","color":"#9a9a9a","strokeWidth":1.2},"encoding":{"x":{"field":"g","type":"nominal"},"xOffset":{"field":"s","type":"nominal","scale":{"domain":["F","M"],"paddingInner":0,"paddingOuter":0}},"y":{"field":"lo","type":"quantitative"},"y2":{"field":"hi"}}},
  {"data":{"name":"box"},"transform":[{"filter":"datum.p==='H'"}],"mark":{"type":"bar","width":15},"encoding":{"x":{"field":"g","type":"nominal"},"xOffset":{"field":"s","type":"nominal"},"y":{"field":"q1","type":"quantitative"},"y2":{"field":"q3"},"color":{"field":"s","type":"nominal","scale":{"domain":["F","M"],"range":["#ebb896","#aaaede"]},"legend":null}}},
  {"data":{"name":"box"},"transform":[{"filter":"datum.p==='H'"}],"mark":{"type":"tick","color":"white","size":15,"thickness":1.5,"opacity":1},"encoding":{"x":{"field":"g","type":"nominal"},"xOffset":{"field":"s","type":"nominal"},"y":{"field":"med","type":"quantitative"}}},
  {"data":{"name":"pts"},"transform":[{"filter":"datum.p==='H'"}],"mark":{"type":"circle","size":24,"opacity":1},"encoding":{"x":{"field":"g","type":"nominal"},"xOffset":{"field":"s","type":"nominal"},"y":{"field":"v","type":"quantitative"},"color":{"field":"s","type":"nominal","scale":{"domain":["F","M"],"range":["#c95f26","#343e96"]},"legend":null}}},
  {"data":{"name":"sexlab"},"mark":{"type":"text","fontSize":14},"encoding":{"x":{"field":"g","type":"nominal"},"xOffset":{"field":"s","type":"nominal"},"y":{"datum":-29,"type":"quantitative"},"text":{"field":"sym","type":"nominal"}}},
  {"data":{"name":"grps"},"mark":{"type":"point","shape":"M-1,0L1,0","filled":false,"color":"#777","strokeWidth":1.5,"size":2256,"opacity":1},"encoding":{"x":{"field":"g","type":"nominal"},"y":{"datum":-82,"type":"quantitative"}}},
  {"data":{"values":[{}]},"mark":{"type":"point","shape":"M-1,0.3L-1,0L1,0L1,0.3","filled":false,"color":"#333","strokeWidth":1,"size":1156,"opacity":1},"encoding":{"x":{"datum":"Lab","type":"nominal"},"y":{"datum":886,"type":"quantitative"}}},
  {"data":{"values":[{}]},"mark":{"type":"text","fontSize":13},"encoding":{"x":{"datum":"Lab","type":"nominal"},"y":{"datum":914,"type":"quantitative"},"text":{"value":"**"}}}
 ]},
 {"width":146,"height":140,"title":{"text":"I","anchor":"start","frame":"group","dx":-18,"offset":5,"fontSize":13,"fontWeight":"bold"},"resolve":{"scale":{"color":"independent"}},
  "layer":[
  {"data":{"values":[{}]},"mark":{"type":"rule","color":"#aaa","strokeDash":[4,3],"strokeWidth":1},
   "encoding":{"x":{"datum":"Wild","type":"nominal","bandPosition":-0.057,"scale":{"domain":["Lab","Wild"],"paddingInner":0.103,"paddingOuter":0.06},"axis":{"title":null,"labelAngle":0,"domain":false,"ticks":false,"tickSize":0,"labelPadding":14,"labelFontSize":13}},
    "y":{"datum":900,"type":"quantitative","scale":{"domain":[0,900],"nice":false},"axis":{"values":[0,300,600,900],"tickCount":20,"labelOverlap":false,"format":"~r","title":"Delta α-submissive","tickSize":4,"labelPadding":1,"titlePadding":2,"labelFontSize":11,"titleFontSize":12}},
    "y2":{"datum":-77}}},
  {"data":{"name":"box"},"transform":[{"filter":"datum.p==='I'"}],"mark":{"type":"rule","color":"#9a9a9a","strokeWidth":1.2},"encoding":{"x":{"field":"g","type":"nominal"},"xOffset":{"field":"s","type":"nominal","scale":{"domain":["F","M"],"paddingInner":0,"paddingOuter":0}},"y":{"field":"lo","type":"quantitative"},"y2":{"field":"hi"}}},
  {"data":{"name":"box"},"transform":[{"filter":"datum.p==='I'"}],"mark":{"type":"bar","width":17},"encoding":{"x":{"field":"g","type":"nominal"},"xOffset":{"field":"s","type":"nominal"},"y":{"field":"q1","type":"quantitative"},"y2":{"field":"q3"},"color":{"field":"s","type":"nominal","scale":{"domain":["F","M"],"range":["#ebb896","#aaaede"]},"legend":null}}},
  {"data":{"name":"box"},"transform":[{"filter":"datum.p==='I'"}],"mark":{"type":"tick","color":"white","size":17,"thickness":1.5,"opacity":1},"encoding":{"x":{"field":"g","type":"nominal"},"xOffset":{"field":"s","type":"nominal"},"y":{"field":"med","type":"quantitative"}}},
  {"data":{"name":"pts"},"transform":[{"filter":"datum.p==='I'"}],"mark":{"type":"circle","size":24,"opacity":1},"encoding":{"x":{"field":"g","type":"nominal"},"xOffset":{"field":"s","type":"nominal"},"y":{"field":"v","type":"quantitative"},"color":{"field":"s","type":"nominal","scale":{"domain":["F","M"],"range":["#c95f26","#343e96"]},"legend":null}}},
  {"data":{"name":"sexlab"},"mark":{"type":"text","fontSize":14},"encoding":{"x":{"field":"g","type":"nominal"},"xOffset":{"field":"s","type":"nominal"},"y":{"datum":-26,"type":"quantitative"},"text":{"field":"sym","type":"nominal"}}},
  {"data":{"name":"grps"},"mark":{"type":"point","shape":"M-1,0L1,0","filled":false,"color":"#777","strokeWidth":1.5,"size":2209,"opacity":1},"encoding":{"x":{"field":"g","type":"nominal"},"y":{"datum":-74,"type":"quantitative"}}},
  {"data":{"values":[{}]},"mark":{"type":"point","shape":"M-1,0.3L-1,0L1,0L1,0.3","filled":false,"color":"#333","strokeWidth":1,"size":1156,"opacity":1},"encoding":{"x":{"datum":"Lab","type":"nominal"},"y":{"datum":797,"type":"quantitative"}}},
  {"data":{"values":[{}]},"mark":{"type":"text","fontSize":13},"encoding":{"x":{"datum":"Lab","type":"nominal"},"y":{"datum":823,"type":"quantitative"},"text":{"value":"**"}}}
 ]}
]}
]
}
